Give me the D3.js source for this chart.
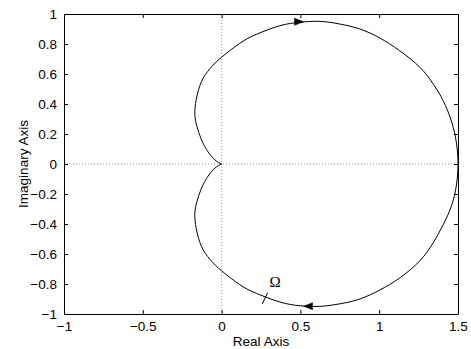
<!DOCTYPE html>
<html>
<head>
<meta charset="utf-8">
<script src="https://cdn.jsdelivr.net/npm/d3@7"></script>
<style>
  html, body { margin: 0; padding: 0; background: #fff; }
  svg { display: block; }
  text { font-family: "Liberation Sans", Arial, Helvetica, sans-serif; }
</style>
</head>
<body>
<script>
// ---- data ----
const xTicks = [-1, -0.5, 0, 0.5, 1, 1.5];
const yTicks = [-1, -0.8, -0.6, -0.4, -0.2, 0, 0.2, 0.4, 0.6, 0.8, 1];
const xDomain = [-1, 1.5];
const yDomain = [-1, 1];

// Nyquist curve, in drawing order (origin -> upper half -> (1.5,0) -> lower half -> origin)
const curveRe = [0, -0.042, -0.085, -0.127, -0.159, -0.17, -0.155, -0.117, -0.06, 0, 0.116, 0.222, 0.37, 0.497, 0.624, 0.751, 0.877, 1.004, 1.13, 1.258, 1.343, 1.406, 1.46, 1.49, 1.5,
                 1.49, 1.46, 1.406, 1.343, 1.258, 1.13, 1.004, 0.877, 0.751, 0.624, 0.497, 0.37, 0.222, 0.116, 0, -0.06, -0.117, -0.155, -0.17, -0.159, -0.127, -0.085, -0.042, 0];
const curveIm = [0, 0.027, 0.08, 0.16, 0.26, 0.35, 0.46, 0.572, 0.652, 0.712, 0.805, 0.865, 0.922, 0.945, 0.951, 0.933, 0.9, 0.84, 0.755, 0.645, 0.533, 0.422, 0.28, 0.14, 0,
                 -0.14, -0.275, -0.405, -0.525, -0.645, -0.76, -0.84, -0.9, -0.932, -0.949, -0.945, -0.92, -0.863, -0.805, -0.712, -0.652, -0.572, -0.46, -0.35, -0.26, -0.16, -0.08, -0.027, 0];

// direction arrows: tip position and direction (+1 right, -1 left)
const arrowRe = [0.52, 0.52];
const arrowIm = [0.948, -0.948];
const arrowDir = [1, -1];

// Omega annotation
const omegaLabel = "Ω";
const omegaRe = 0.34, omegaIm = -0.785;
const omegaMarkRe = [0.258, 0.292];
const omegaMarkIm = [-0.933, -0.858];

const xLabel = "Real Axis";
const yLabel = "Imaginary Axis";

// ---- layout ----
const W = 471, H = 349;
const m = { left: 64, right: 13, top: 14, bottom: 35 };
const iw = W - m.left - m.right, ih = H - m.top - m.bottom;

const svg = d3.select("body").append("svg").attr("width", W).attr("height", H);
const g = svg.append("g").attr("transform", `translate(${m.left},${m.top})`);

const x = d3.scaleLinear().domain(xDomain).range([0, iw]);
const y = d3.scaleLinear().domain(yDomain).range([ih, 0]);

const fmt = d => (d < 0 ? "\u2212" : "") + String(Math.abs(d));

// dotted zero lines
g.append("line").attr("x1", x(0)).attr("x2", x(0)).attr("y1", 0).attr("y2", ih)
  .attr("stroke", "#999").attr("stroke-width", 1).attr("stroke-dasharray", "1,2");
g.append("line").attr("x1", 0).attr("x2", iw).attr("y1", y(0)).attr("y2", y(0))
  .attr("stroke", "#999").attr("stroke-width", 1).attr("stroke-dasharray", "1,2");

// axes
const tl = 4;
const axB = g.append("g").attr("transform", `translate(0,${ih})`)
  .call(d3.axisBottom(x).tickValues(xTicks).tickFormat(fmt).tickSizeInner(-tl).tickSizeOuter(0).tickPadding(7));
const axT = g.append("g")
  .call(d3.axisTop(x).tickValues(xTicks).tickFormat("").tickSizeInner(-tl).tickSizeOuter(0));
const axL = g.append("g")
  .call(d3.axisLeft(y).tickValues(yTicks).tickFormat(fmt).tickSizeInner(-tl).tickSizeOuter(0).tickPadding(7));
const axR = g.append("g").attr("transform", `translate(${iw},0)`)
  .call(d3.axisRight(y).tickValues(yTicks).tickFormat("").tickSizeInner(-tl).tickSizeOuter(0));

[axB, axT, axL, axR].forEach(a => {
  a.selectAll("path.domain").attr("stroke", "#000").attr("stroke-width", 1);
  a.selectAll(".tick line").attr("stroke", "#000");
  a.selectAll("text").attr("font-size", 13.5).attr("fill", "#000")
    .style("font-family", '"Liberation Sans", Arial, sans-serif');
});

// curve
const pts = curveRe.map((r, i) => [x(r), y(curveIm[i])]);
g.append("path").attr("d", d3.line().curve(d3.curveNatural)(pts))
  .attr("fill", "none").attr("stroke", "#000").attr("stroke-width", 1);

// arrows
arrowRe.forEach((r, i) => {
  const tx = x(r), ty = y(arrowIm[i]), d = arrowDir[i];
  const len = 9, hw = 3.5;
  g.append("path")
    .attr("d", `M${tx},${ty} L${tx - d * len},${ty - hw} L${tx - d * len},${ty + hw} Z`)
    .attr("fill", "#000").attr("stroke", "#000").attr("stroke-width", 0.5);
});

// Omega mark and label
g.append("line")
  .attr("x1", x(omegaMarkRe[0])).attr("y1", y(omegaMarkIm[0]))
  .attr("x2", x(omegaMarkRe[1])).attr("y2", y(omegaMarkIm[1]))
  .attr("stroke", "#000").attr("stroke-width", 1);
g.append("text").attr("x", x(omegaRe)).attr("y", y(omegaIm)).attr("dy", "0.35em")
  .attr("text-anchor", "middle").attr("font-size", 15)
  .style("font-family", '"Liberation Serif", "DejaVu Serif", serif')
  .text(omegaLabel);

// axis labels
svg.append("text").attr("x", m.left + iw / 2).attr("y", 346)
  .attr("text-anchor", "middle").attr("font-size", 13.5).text(xLabel);
svg.append("text").attr("transform", `translate(23,${m.top + ih / 2}) rotate(-90)`)
  .attr("text-anchor", "middle").attr("dy", "0.35em").attr("font-size", 13.5).text(yLabel);
</script>
</body>
</html>
